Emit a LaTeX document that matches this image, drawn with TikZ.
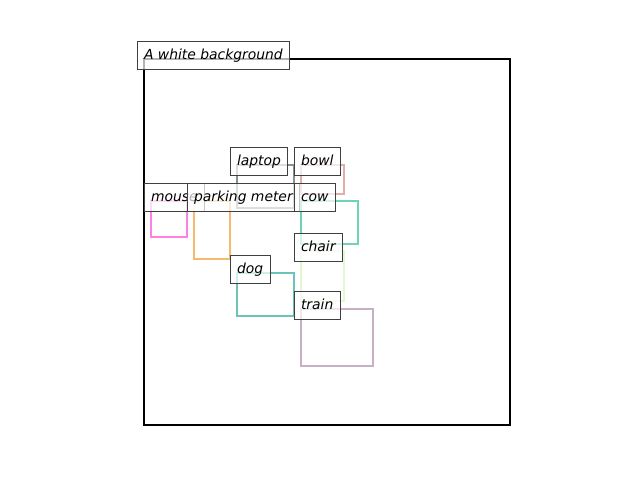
\documentclass[tikz,border=0pt]{standalone}
\usepackage{fontspec}
\setmainfont{DejaVu Sans}
\usepackage{xcolor}
\usetikzlibrary{positioning}
\definecolor{lblline}{HTML}{404040}
\definecolor{mousec}{HTML}{FF80E0}
\definecolor{meterc}{HTML}{F7B870}
\definecolor{laptopc}{HTML}{84948C}
\definecolor{bowlc}{HTML}{E0B0A8}
\definecolor{cowc}{HTML}{70D4B0}
\definecolor{chairc}{HTML}{E4F8D0}
\definecolor{dogc}{HTML}{6CC4B8}
\definecolor{trainc}{HTML}{C8B0C4}

\begin{document}
\begin{tikzpicture}[
  x=0.72pt,y=-0.72pt,
  frame/.style={draw=black,line width=1.7pt},
  bbox/.style={line width=1.75pt},
  lbl/.style={draw=lblline,fill=white,fill opacity=0.7,draw opacity=1,text opacity=1,line width=0.75pt,
    anchor=base west,xshift=-5pt,inner sep=5pt,outer sep=0pt,
    text height=7.6pt,text depth=2.4pt,font=\itshape\fontsize{10pt}{12pt}\selectfont}
]
\useasboundingbox (0,0) rectangle (640,480);
\draw[frame] (144,59) rectangle (510,425);

% object boxes
\draw[bbox,draw=mousec] (151,201) rectangle (187,237);
\draw[bbox,draw=meterc] (194,201) rectangle (230,259);
\draw[bbox,draw=laptopc] (237,165) rectangle (294,208);
\draw[bbox,draw=bowlc] (301,165) rectangle (344,194);
\draw[bbox,draw=cowc] (301,201) rectangle (358,244);
\draw[bbox,draw=chairc] (301,251) rectangle (344,301);
\draw[bbox,draw=dogc] (237,273) rectangle (294,316);
\draw[bbox,draw=trainc] (301,309) rectangle (373,366);

% labels
\node[lbl] (bg) at (144,59) {A white background};
\node[lbl] (laptop) at (237,165) {laptop};
\node[lbl] (bowl) at (301,165) {bowl};
\node[lbl] (mouse) at (151,201) {mouse};
\node[lbl] (meter) at (194,201) {parking meter};
\node[lbl] (cow) at (301,201) {cow};
\node[lbl] (chair) at (301,251) {chair};
\node[lbl] (dog) at (237,273) {dog};
\node[lbl] (train) at (301,309) {train};
\end{tikzpicture}
\end{document}
